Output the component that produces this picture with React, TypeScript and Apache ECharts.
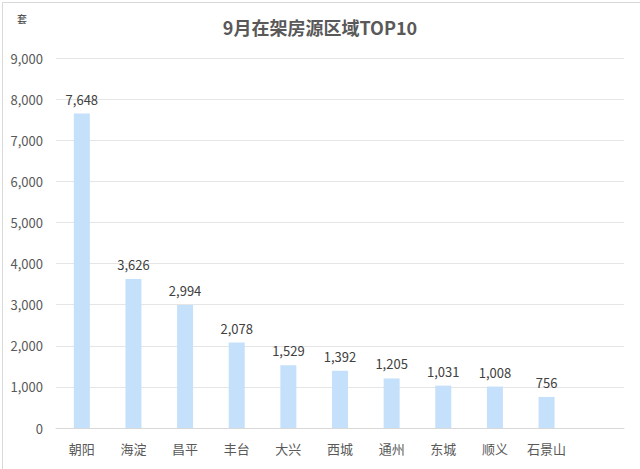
import React, { useEffect, useRef } from "react";
import * as echarts from "echarts";

const categories = ["朝阳", "海淀", "昌平", "丰台", "大兴", "西城", "通州", "东城", "顺义", "石景山"];
const values = [7648, 3626, 2994, 2078, 1529, 1392, 1205, 1031, 1008, 756];
const titleText = "9月在架房源区域TOP10";
const unitText = "套";

export default function App() {
  const ref = useRef<HTMLDivElement>(null);
  useEffect(() => {
    document.body.style.margin = "0";
    const chart = echarts.init(ref.current!, null, { renderer: "svg" });
    const font = "'Microsoft YaHei', 'Noto Sans CJK SC', sans-serif";
    chart.setOption({
      animation: false,
      backgroundColor: "#ffffff",
      title: {
        text: titleText,
        left: "center",
        top: 13,
        textStyle: { fontSize: 18, fontWeight: "bold", color: "#595959", fontFamily: font },
      },
      graphic: [
        {
          type: "rect",
          left: 0,
          top: 0,
          shape: { width: 639, height: 468 },
          style: { fill: "none", stroke: "#d9d9d9", lineWidth: 1 },
        },
        {
          type: "text",
          left: 17,
          top: 13,
          style: { text: unitText, fontSize: 10, fill: "#404040", fontFamily: font },
        },
      ],
      grid: { left: 56, right: 16, top: 58, bottom: 41, containLabel: false },
      xAxis: {
        type: "category",
        data: categories,
        max: 10,
        axisLine: { show: true, lineStyle: { color: "#d9d9d9" } },
        axisTick: { show: false },
        axisLabel: { color: "#595959", fontSize: 13, margin: 14, fontFamily: font, interval: 0 },
      },
      yAxis: {
        type: "value",
        min: 0,
        max: 9000,
        interval: 1000,
        axisLine: { show: false },
        axisTick: { show: false },
        splitLine: { lineStyle: { color: "#e5e5e5" } },
        axisLabel: {
          color: "#595959",
          fontSize: 13,
          margin: 13,
          fontFamily: font,
          formatter: (v: number) => v.toLocaleString("en-US"),
        },
      },
      series: [
        {
          type: "bar",
          data: values,
          barWidth: 16,
          itemStyle: { color: "#c5e0fa" },
          label: {
            show: true,
            position: "top",
            distance: 8,
            color: "#404040",
            fontSize: 13,
            fontFamily: font,
            formatter: (p: any) => Number(p.value).toLocaleString("en-US"),
          },
        },
      ],
    });
    return () => chart.dispose();
  }, []);
  return <div ref={ref} style={{ width: 640, height: 469 }} />;
}
